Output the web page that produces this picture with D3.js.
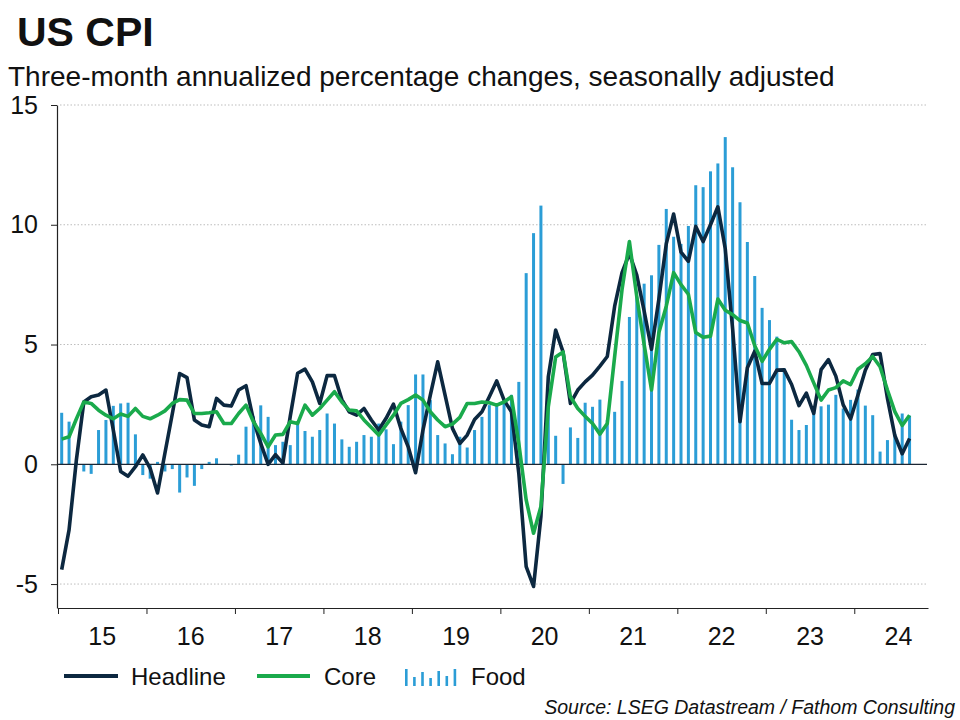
<!DOCTYPE html>
<html><head><meta charset="utf-8">
<script src="https://cdn.jsdelivr.net/npm/d3@7"></script>
<style>
body{margin:0;background:#fff;}
svg{display:block;font-family:"Liberation Sans",Arial,sans-serif;}
</style></head><body>
<svg id="chart" width="960" height="720"></svg>
<script>
// Monthly data, Jan 2015 – Aug 2024 (three-month annualized % change, SA)
const headline = [
 -4.4, -2.74, 0.2, 2.6, 2.82, 2.89, 3.1, 1.43, -0.3, -0.5,
 -0.1, 0.39, -0.17, -1.2, 0.46, 2.1, 3.79, 3.62, 1.85, 1.64,
 1.57, 2.75, 2.47, 2.43, 3.1, 3.28, 1.85, 0.87, 0.0, 0.4,
 0.05, 2.0, 3.8, 3.97, 3.44, 2.54, 3.7, 3.7, 2.7, 2.19,
 2.05, 2.33, 1.85, 1.43, 1.92, 2.51, 1.5, 0.73, -0.35, 1.43,
 2.89, 4.28, 2.89, 1.5, 0.87, 1.22, 1.87, 2.19, 2.82, 3.48,
 2.68, 2.19, -0.38, -4.27, -5.1, -2.18, 3.65, 5.6, 4.69, 2.54,
 3.1, 3.44, 3.72, 4.1, 4.5, 6.6, 8.0, 8.8, 7.9, 6.4,
 4.8, 6.9, 9.2, 10.45, 8.86, 8.47, 9.93, 9.3, 10.0, 10.75,
 9.0, 5.65, 1.78, 4.03, 4.72, 3.37, 3.38, 3.93, 3.94, 3.33,
 2.45, 2.97, 2.12, 3.95, 4.37, 3.68, 2.48, 1.89, 2.89, 3.93,
 4.58, 4.62, 2.75, 1.2, 0.44, 1.08
];
const core = [
 1.05, 1.15, 1.9, 2.6, 2.54, 2.26, 2.05, 1.9, 2.1, 2.0,
 2.33, 2.0, 1.9, 2.05, 2.23, 2.54, 2.7, 2.68, 2.12, 2.12,
 2.15, 2.19, 1.7, 1.7, 2.12, 2.47, 1.78, 1.29, 0.73, 1.22,
 1.25, 1.78, 1.7, 2.47, 2.05, 2.33, 2.68, 3.03, 2.6, 2.26,
 2.23, 1.85, 1.54, 1.22, 1.64, 2.05, 2.54, 2.7, 2.89, 2.68,
 2.19, 1.85, 1.57, 1.68, 1.96, 2.54, 2.54, 2.6, 2.57, 2.47,
 2.6, 2.82, 0.87, -1.49, -2.88, -1.76, 2.4, 4.48, 4.69, 2.82,
 2.33, 2.0, 1.7, 1.26, 1.7, 4.5, 7.3, 9.3, 7.0, 5.0,
 3.1, 5.5, 6.6, 8.0, 7.5, 7.1, 5.5, 5.3, 5.35, 6.9,
 6.43, 6.25, 6.0, 5.9, 4.95, 4.3, 4.8, 5.22, 5.07, 5.12,
 4.7, 4.13, 3.4, 2.68, 3.1, 3.2, 3.48, 3.33, 3.97, 4.2,
 4.5, 4.07, 3.1, 2.2, 1.62, 2.05
];
const food = [
 2.15, 1.78, 0.2, -0.3, -0.4, 1.43, 1.85, 2.44, 2.54, 2.57,
 1.25, -0.45, -0.6, 0.1, -0.3, -0.2, -1.18, -0.55, -0.9, -0.2,
 0.1, 0.25, 0.0, -0.05, 0.4, 1.57, 2.0, 2.46, 1.98, 0.8,
 0.94, 0.8, 1.75, 1.39, 1.15, 1.43, 2.12, 1.7, 1.04, 0.73,
 0.94, 1.22, 1.15, 1.7, 1.46, 0.84, 1.78, 2.47, 3.75, 3.75,
 2.68, 1.22, 0.87, 0.42, 1.15, 0.7, 1.43, 1.98, 2.47, 2.47,
 2.54, 2.9, 3.44, 7.98, 9.65, 10.8, 3.0, 1.19, -0.82, 1.54,
 1.1, 2.57, 2.4, 2.7, 1.85, 2.19, 3.48, 6.15, 7.0, 7.54,
 7.89, 9.16, 10.66, 9.5, 9.2, 9.95, 11.65, 11.57, 12.23, 12.56,
 13.66, 12.4, 10.94, 9.28, 7.86, 6.53, 6.02, 5.33, 4.0, 1.86,
 1.43, 1.64, 2.2, 2.42, 2.49, 2.9, 2.33, 2.69, 3.12, 2.45,
 2.05, 0.53, 1.01, 1.25, 2.12, 2.03
];
const yearLabels = ["15","16","17","18","19","20","21","22","23","24"];
const yTicks = [15, 10, 5, 0, -5];
const gridTicks = [15, 10, 5, -5];

const COL_HEAD = "#0c2840", COL_CORE = "#1aaa4c", COL_FOOD = "#2b9dd6";

const svg = d3.select("#chart");
// x: months since Jan 2015 (month i is centred at i + 0.5)
const x = d3.scaleLinear().domain([0, 118]).range([58, 928]);
const y = d3.scaleLinear().domain([-6, 15]).range([608, 105]);

// Title & subtitle
svg.append("text").attr("x", 17).attr("y", 46)
  .attr("font-size", 41).attr("font-weight", "bold").attr("fill", "#111")
  .text("US CPI");
svg.append("text").attr("x", 8).attr("y", 86)
  .attr("font-size", 28).attr("fill", "#111")
  .text("Three-month annualized percentage changes, seasonally adjusted");

// Gridlines
svg.append("g").selectAll("line").data(gridTicks).join("line")
  .attr("x1", 60).attr("x2", 926)
  .attr("y1", d => y(d)).attr("y2", d => y(d))
  .attr("stroke", "#bdbdbd").attr("stroke-width", 1)
  .attr("stroke-dasharray", "1.5,2");

// Food bars
svg.append("g").selectAll("rect").data(food).join("rect")
  .attr("x", (d, i) => x(i + 0.5) - 1.5)
  .attr("width", 3)
  .attr("y", d => Math.min(y(d), y(0)))
  .attr("height", d => Math.abs(y(d) - y(0)))
  .attr("fill", COL_FOOD);

// Zero line
svg.append("line").attr("x1", 57).attr("x2", 927)
  .attr("y1", y(0)).attr("y2", y(0))
  .attr("stroke", "#1b2633").attr("stroke-width", 1.2);

// Lines
const lineGen = d3.line().x((d, i) => x(i + 0.5)).y(d => y(d));
svg.append("path").datum(headline).attr("d", lineGen)
  .attr("fill", "none").attr("stroke", COL_HEAD).attr("stroke-width", 3.6)
  .attr("stroke-linejoin", "round");
svg.append("path").datum(core).attr("d", lineGen)
  .attr("fill", "none").attr("stroke", COL_CORE).attr("stroke-width", 3.6)
  .attr("stroke-linejoin", "round");

// Y axis
const yAxis = svg.append("g").attr("transform", "translate(57,0)")
  .call(d3.axisLeft(y).tickValues(yTicks).tickFormat(d => String(d))
    .tickSize(6).tickSizeOuter(0).tickPadding(13));
yAxis.select(".domain").attr("stroke", "#222").attr("stroke-width", 1.2);
yAxis.selectAll(".tick line").attr("stroke", "#222");
yAxis.selectAll(".tick text").attr("font-size", 25).attr("fill", "#111")
  .attr("font-family", "Liberation Sans, Arial, sans-serif");

// X axis
const xAxis = svg.append("g").attr("transform", "translate(0,608)")
  .call(d3.axisBottom(x).tickValues(d3.range(0, 120, 12)).tickFormat("")
    .tickSize(6).tickSizeOuter(0));
xAxis.select(".domain").attr("stroke", "#222").attr("stroke-width", 1.2);
xAxis.selectAll(".tick line").attr("stroke", "#222");
svg.append("g").selectAll("text").data(yearLabels).join("text")
  .attr("x", (d, i) => x(i * 12 + 6)).attr("y", 645)
  .attr("text-anchor", "middle").attr("font-size", 25).attr("fill", "#111")
  .text(d => d);

// Legend
const lg = svg.append("g");
lg.append("line").attr("x1", 64).attr("x2", 118).attr("y1", 676).attr("y2", 676)
  .attr("stroke", COL_HEAD).attr("stroke-width", 4);
lg.append("text").attr("x", 131).attr("y", 685).attr("font-size", 24).attr("fill", "#111").text("Headline");
lg.append("line").attr("x1", 257).attr("x2", 310).attr("y1", 676).attr("y2", 676)
  .attr("stroke", COL_CORE).attr("stroke-width", 4);
lg.append("text").attr("x", 324).attr("y", 685).attr("font-size", 24).attr("fill", "#111").text("Core");
const iconH = [17, 9, 14, 8, 15, 10, 17];
lg.selectAll("rect.icon").data(iconH).join("rect").attr("class", "icon")
  .attr("x", (d, i) => 405 + i * 8.1).attr("width", 2.6)
  .attr("y", d => 686 - d).attr("height", d => d)
  .attr("fill", COL_FOOD);
lg.append("text").attr("x", 471).attr("y", 685).attr("font-size", 24).attr("fill", "#111").text("Food");

// Source
svg.append("text").attr("x", 955).attr("y", 714).attr("text-anchor", "end")
  .attr("font-size", 19.5).attr("font-style", "italic").attr("fill", "#111")
  .text("Source: LSEG Datastream / Fathom Consulting");
</script>
</body></html>
